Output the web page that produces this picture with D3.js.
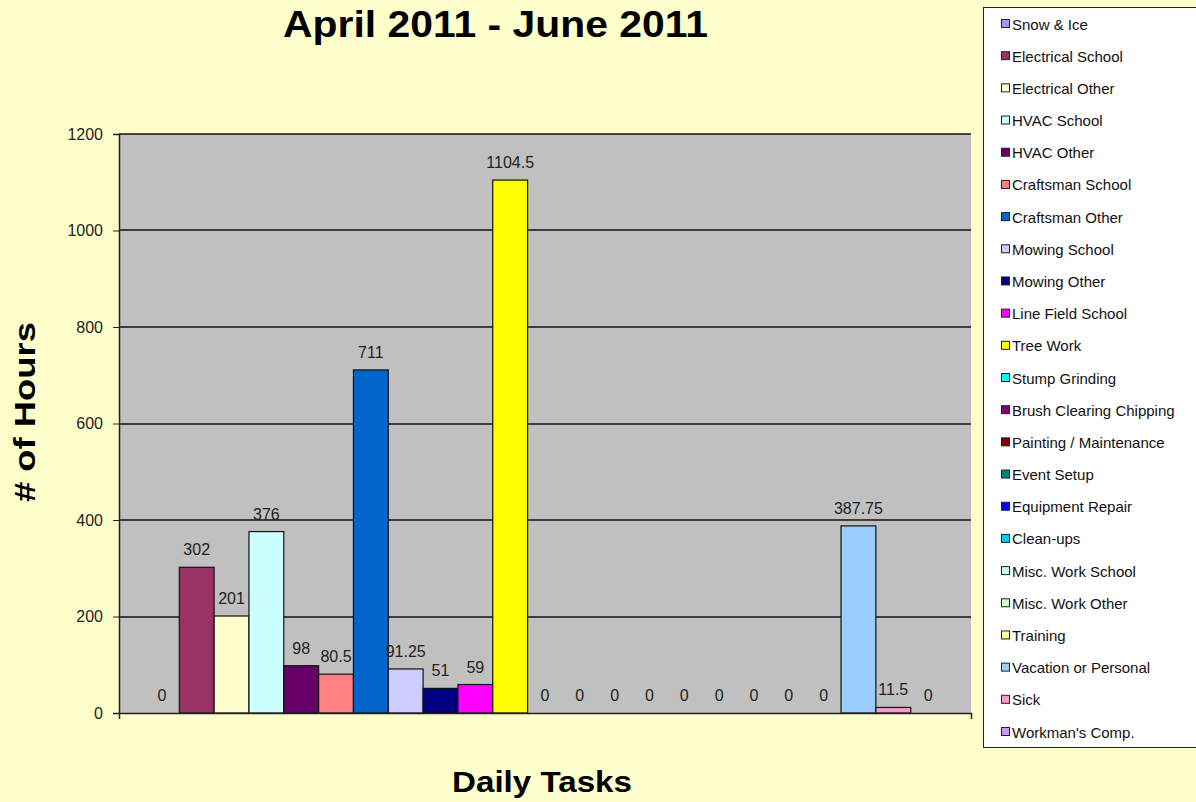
<!DOCTYPE html>
<html>
<head>
<meta charset="utf-8">
<script src="https://cdn.jsdelivr.net/npm/d3@7"></script>
<style>
  html, body { margin: 0; padding: 0; background: #FFFFCC; }
  svg { display: block; }
  text { font-family: Arial, "Liberation Sans", sans-serif; }
</style>
</head>
<body>
<svg id="chart" width="1196" height="802"></svg>
<script>
// ---- data ----
const categories = ["Daily Tasks"];
const seriesNames = [
  "Snow & Ice", "Electrical School", "Electrical Other", "HVAC School", "HVAC Other",
  "Craftsman School", "Craftsman Other", "Mowing School", "Mowing Other", "Line Field School",
  "Tree Work", "Stump Grinding", "Brush Clearing Chipping", "Painting / Maintenance", "Event Setup",
  "Equipment Repair", "Clean-ups", "Misc. Work School", "Misc. Work Other", "Training",
  "Vacation or Personal", "Sick", "Workman's Comp."
];
const seriesValues = [
  0, 302, 201, 376, 98,
  80.5, 711, 91.25, 51, 59,
  1104.5, 0, 0, 0, 0,
  0, 0, 0, 0, 0,
  387.75, 11.5, 0
];
const seriesColors = [
  "#9999FF", "#993366", "#FFFFCC", "#CCFFFF", "#660066",
  "#FF8080", "#0066CC", "#CCCCFF", "#000080", "#FF00FF",
  "#FFFF00", "#00FFFF", "#800080", "#800000", "#008080",
  "#0000FF", "#00CCFF", "#CCFFFF", "#CCFFCC", "#FFFF99",
  "#99CCFF", "#FF99CC", "#CC99FF"
];
const yTicks = [0, 200, 400, 600, 800, 1000, 1200];
const titleText = "April 2011 - June 2011";
const yTitle = "# of Hours";
const xTitle = "Daily Tasks";

// ---- layout ----
const svg = d3.select("#chart");
const plot = { left: 119, right: 971, top: 134, bottom: 713 };

const y = d3.scaleLinear().domain([0, 1200]).range([plot.bottom, plot.top]);
const xOuter = d3.scaleBand().domain(categories).range([plot.left, plot.right])
  .paddingInner(0).paddingOuter(0.0318);
const xInner = d3.scaleBand().domain(seriesNames).range([0, xOuter.bandwidth()]).padding(0);

// plot area background
svg.append("rect")
  .attr("x", plot.left).attr("y", plot.top)
  .attr("width", plot.right - plot.left).attr("height", plot.bottom - plot.top)
  .attr("fill", "#C0C0C0");

// gridlines
svg.append("g").selectAll("line").data(yTicks.filter(d => d > 0)).join("line")
  .attr("x1", plot.left).attr("x2", plot.right)
  .attr("y1", d => Math.round(y(d))).attr("y2", d => Math.round(y(d)))
  .attr("stroke", "#111").attr("stroke-width", 1.5);

// bars
const data = seriesNames.map((n, i) => ({ name: n, value: seriesValues[i], color: seriesColors[i] }));
const g = svg.append("g").attr("transform", `translate(${xOuter(categories[0])},0)`);
g.selectAll("rect").data(data.filter(d => d.value > 0)).join("rect")
  .attr("x", d => xInner(d.name))
  .attr("y", d => y(d.value))
  .attr("width", xInner.bandwidth())
  .attr("height", d => y(0) - y(d.value))
  .attr("fill", d => d.color)
  .attr("stroke", "#111").attr("stroke-width", 1.2);

// data labels
g.selectAll("text").data(data).join("text")
  .attr("x", d => xInner(d.name) + xInner.bandwidth() / 2)
  .attr("y", d => y(d.value) - 12)
  .attr("text-anchor", "middle")
  .attr("font-size", 16)
  .attr("fill", "#222")
  .text(d => d.value);

// y axis
const yAxis = d3.axisLeft(y).tickValues(yTicks).tickSize(6).tickPadding(10).tickFormat(d3.format("d"));
const ya = svg.append("g").attr("transform", `translate(${plot.left},0)`).call(yAxis);
ya.select(".domain").attr("stroke", "#222").attr("stroke-width", 1.5);
ya.selectAll(".tick line").attr("stroke", "#222");
ya.selectAll(".tick text").attr("font-size", 16).attr("fill", "#222")
  .attr("font-family", "Arial, 'Liberation Sans', sans-serif");

// x axis
const xAxis = d3.axisBottom(d3.scaleLinear().domain([0, 1]).range([plot.left, plot.right]))
  .tickValues([0, 1]).tickSize(6).tickFormat("");
const xa = svg.append("g").attr("transform", `translate(0,${plot.bottom})`).call(xAxis);
xa.select(".domain").attr("stroke", "#222").attr("stroke-width", 1.5);
xa.selectAll(".tick line").attr("stroke", "#222");

// title
svg.append("text")
  .attr("x", 495.5).attr("y", 37)
  .attr("text-anchor", "middle")
  .attr("font-size", 37).attr("font-weight", "bold")
  .attr("textLength", 425).attr("lengthAdjust", "spacingAndGlyphs")
  .text(titleText);

// y title
svg.append("text")
  .attr("transform", "translate(35,412) rotate(-90)")
  .attr("text-anchor", "middle")
  .attr("font-size", 30).attr("font-weight", "bold")
  .attr("textLength", 180).attr("lengthAdjust", "spacingAndGlyphs")
  .text(yTitle);

// x title
svg.append("text")
  .attr("x", 542).attr("y", 792)
  .attr("text-anchor", "middle")
  .attr("font-size", 29).attr("font-weight", "bold")
  .attr("textLength", 180).attr("lengthAdjust", "spacingAndGlyphs")
  .text(xTitle);

// legend
const legend = svg.append("g");
legend.append("rect")
  .attr("x", 983.5).attr("y", 7.5).attr("width", 220).attr("height", 740)
  .attr("fill", "#FFFFFF").attr("stroke", "#222").attr("stroke-width", 1);
const legY = d3.scalePoint().domain(seriesNames).range([24, 732]);
const items = legend.selectAll("g.item").data(data).join("g").attr("class", "item")
  .attr("transform", d => `translate(1001,${legY(d.name)})`);
items.append("rect")
  .attr("x", 0.5).attr("y", -4.5).attr("width", 8).attr("height", 8)
  .attr("fill", d => d.color).attr("stroke", "#222").attr("stroke-width", 1);
items.append("text")
  .attr("x", 11).attr("y", 5.5)
  .attr("font-size", 15).attr("fill", "#111")
  .text(d => d.name);
</script>
</body>
</html>
